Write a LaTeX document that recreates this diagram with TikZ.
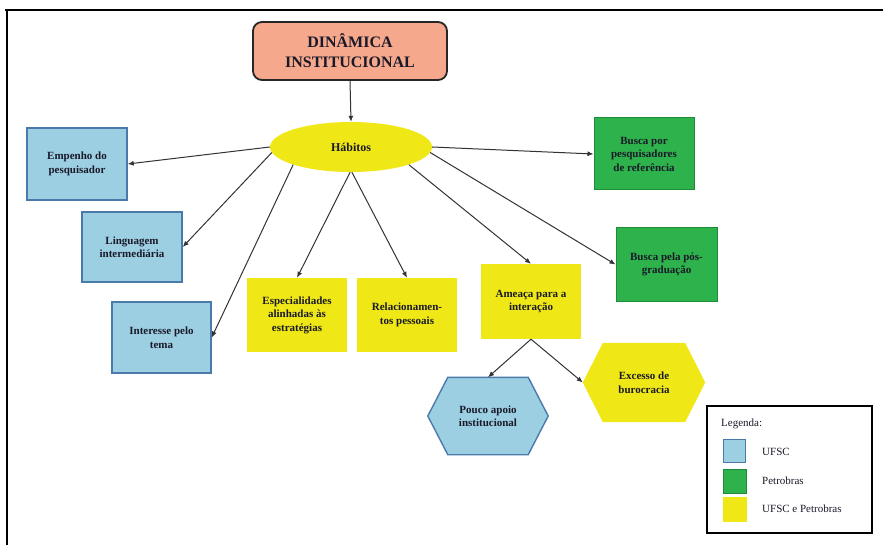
\documentclass[tikz,border=0pt]{standalone}
\usepackage{fontspec}
\setmainfont{Liberation Serif}
\usetikzlibrary{shapes.geometric,arrows.meta,backgrounds}
\definecolor{bluefill}{RGB}{157,207,227}
\definecolor{blueline}{RGB}{74,122,170}
\definecolor{greenfill}{RGB}{46,178,76}
\definecolor{greenline}{RGB}{30,140,55}
\definecolor{yellowfill}{RGB}{240,232,22}
\definecolor{salmon}{RGB}{245,168,140}
\definecolor{txt}{RGB}{25,25,40}
\definecolor{arr}{RGB}{50,50,55}
\begin{document}
\begin{tikzpicture}[x=1pt,y=-1pt,
  base/.style={inner sep=0pt,align=center,text=txt,font=\fontsize{11}{13.5}\selectfont\bfseries},
  bluebox/.style={base,rectangle,fill=bluefill,draw=blueline,line width=1.4pt},
  greenbox/.style={base,rectangle,fill=greenfill,draw=greenline,line width=1pt},
  yellowbox/.style={base,rectangle,fill=yellowfill},
  hexnode/.style={base,rectangle},
  conn/.style={draw=arr,line width=1pt,-{Latex[length=6pt,width=5pt]}},
  legtxt/.style={inner sep=0pt,anchor=west,text=txt,font=\fontsize{11}{13}\selectfont}
]
\useasboundingbox (0,0) rectangle (883,545);
% frame
\draw[line width=2pt,black] (5,10) -- (883,10);
\draw[line width=2pt,black] (7,10) -- (7,545);

% title
\node[base,rectangle,rounded corners=9pt,fill=salmon,draw=black!85,line width=1.8pt,
      minimum width=194,minimum height=58,font=\fontsize{16}{20}\selectfont\bfseries]
      (title) at (350,51) {DINÂMICA\\INSTITUCIONAL};
% Habitos
\node[base,ellipse,fill=yellowfill,minimum width=162,minimum height=50,
      font=\fontsize{12}{13}\selectfont\bfseries] (hab) at (351,147) {Hábitos};

% blue boxes
\node[bluebox,minimum width=100,minimum height=72] (emp) at (77,164) {Empenho do\\pesquisador};
\node[bluebox,minimum width=100,minimum height=70] (ling) at (132,247) {Linguagem\\intermediária};
\node[bluebox,minimum width=99,minimum height=71] (int) at (161.5,337.5) {Interesse pelo\\tema};

% yellow boxes
\node[yellowbox,minimum width=100,minimum height=74] (esp) at (297,315) {Especialidades\\alinhadas às\\estratégias};
\node[yellowbox,minimum width=100,minimum height=74] (rel) at (407,315) {Relacionamen-\\tos pessoais};
\node[yellowbox,minimum width=100,minimum height=75] (ame) at (531,301.5) {Ameaça para a\\interação};

% green boxes
\node[greenbox,minimum width=100,minimum height=72] (bp) at (644,154) {Busca por\\pesquisadores\\de referência};
\node[greenbox,minimum width=101,minimum height=73] (bpg) at (666.5,264.5) {Busca pela pós-\\graduação};

% hexagons
\node[hexnode,minimum width=120,minimum height=77] (pouco) at (488,416) {Pouco apoio\\institucional};
\node[hexnode,minimum width=122,minimum height=79] (exc) at (644,382.5) {Excesso de\\burocracia};
\begin{scope}[on background layer]
\filldraw[fill=bluefill,draw=blueline,line width=1.4pt]
  ([xshift=20]pouco.north west) -- ([xshift=-20]pouco.north east) -- (pouco.east)
  -- ([xshift=-20]pouco.south east) -- ([xshift=20]pouco.south west) -- (pouco.west) -- cycle;
\fill[yellowfill]
  ([xshift=20]exc.north west) -- ([xshift=-20]exc.north east) -- (exc.east)
  -- ([xshift=-20]exc.south east) -- ([xshift=20]exc.south west) -- (exc.west) -- cycle;
\end{scope}

% connectors
\draw[conn] (title.south) -- (hab.north);
\draw[conn] (hab.west) -- (emp.east);
\draw[conn] (hab.184) -- (ling.east);
\draw[conn] (hab.197) -- (int.east);
\draw[conn] (hab.268) -- (esp.north);
\draw[conn] (hab.272) -- (rel.north);
\draw[conn] (hab.-17) -- (ame.north);
\draw[conn] (hab.east) -- (bp.west);
\draw[conn] (hab.-4) -- (bpg.west);
\draw[conn] (ame.south) -- (pouco.north);
\draw[conn] (ame.south) -- (exc.west);

% legend
\node[draw=black,line width=2pt,minimum width=165,minimum height=127,inner sep=0pt] (leg) at (789.5,469.5) {};
\node[legtxt] (legt) at (721,424) {Legenda:};
\node[fill=bluefill,draw=blueline,line width=1.2pt,minimum width=22,minimum height=23,inner sep=0pt] (lb) at (734.5,451) {};
\node[fill=greenfill,draw=greenline,line width=0.8pt,minimum width=23,minimum height=24,inner sep=0pt] (lg) at (734.5,481) {};
\node[fill=yellowfill,minimum width=24,minimum height=25,inner sep=0pt] (ly) at (734.5,509.5) {};
\node[legtxt] (lbt) at (762,452) {UFSC};
\node[legtxt] (lgt) at (762,481) {Petrobras};
\node[legtxt] (lyt) at (762,509) {UFSC e Petrobras};
\end{tikzpicture}
\end{document}
